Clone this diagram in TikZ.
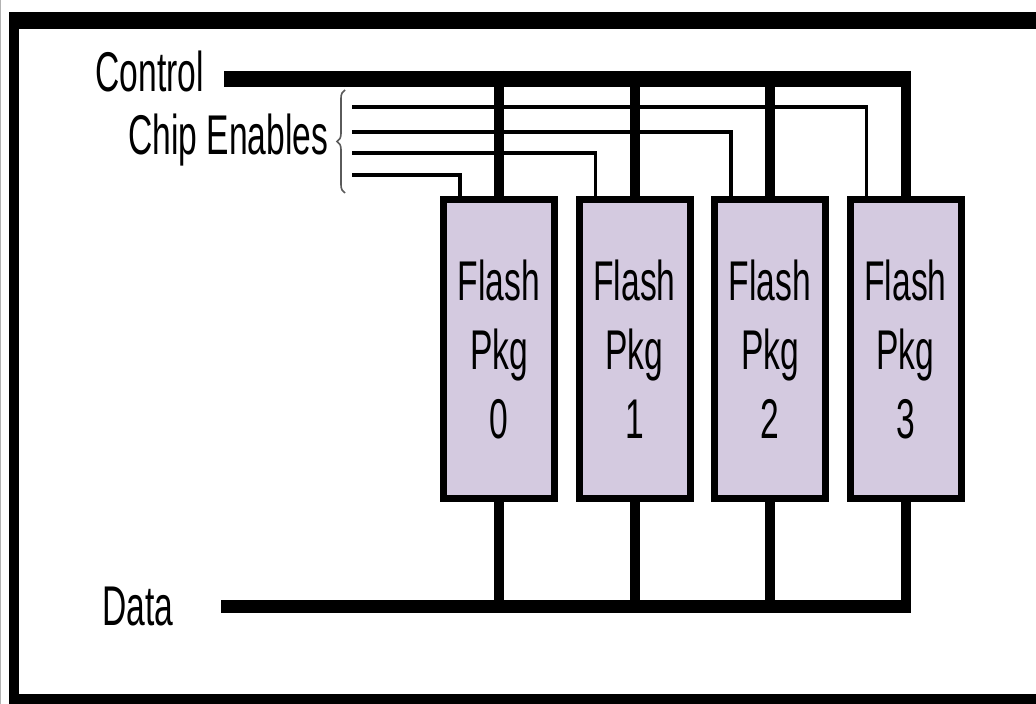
\documentclass[tikz,border=0pt]{standalone}
\usepackage{fontspec}
\setmainfont{Liberation Sans}[FakeStretch=0.6]
\usepackage{xcolor}
\definecolor{flashfill}{RGB}{212,202,224}
\definecolor{bracegray}{RGB}{90,90,90}
\usetikzlibrary{calc, decorations.pathreplacing}

\begin{document}
\begin{tikzpicture}[x=0.5pt, y=-0.5pt,
  flashpkg/.style={draw, line width=3.5pt, fill=flashfill, minimum width=55.5pt,
    minimum height=149.5pt, inner sep=0pt, align=center,
    font=\fontsize{28}{34.5}\selectfont},
  buslabel/.style={anchor=base west, inner sep=0pt, font=\fontsize{28}{34}\selectfont},
  ctrlbus/.style={line width=8pt},
  ctrldrop/.style={line width=5pt},
  databus/.style={line width=6.5pt},
  cesig/.style={line width=1.75pt, line join=miter},
  cebrace/.style={bracegray, line width=0.8pt, decorate, decoration={brace, amplitude=4pt}}]
  \useasboundingbox (0,0) rectangle (1036,704);

  % Outer frame
  \draw[gray!60, line width=0.8pt] (0,0) -- (0,704);
  \fill (9,12) rectangle (1040,29);
  \fill (9,12) rectangle (19,704);
  \fill (9,694) rectangle (1040,704);

  % Flash packages
  \foreach \i in {0,...,3}
    \node[flashpkg] (pkg\i) at (499+135.5*\i,349) {Flash\\Pkg\\\i};

  % Labels
  \node[buslabel] (ctrllbl) at (95,92) {Control};
  \node[buslabel] (celbl) at (128,155) {Chip Enables};
  \node[buslabel] (datalbl) at (102,625) {Data};

  % Control bus
  \coordinate (ctrl) at (224,79);
  \draw[ctrlbus] (ctrl) -- (ctrl -| pkg3.north);
  \foreach \i in {0,...,3}
    \draw[ctrldrop] ($(ctrl -| pkg\i.north)+(0,-8)$) -- (pkg\i.north);

  % Chip enables
  \coordinate (cebot) at (345,193);
  \coordinate (cetop) at (345,90);
  \draw[cebrace] (cebot) -- (cetop);
  \foreach \i/\y in {0/175,1/153,2/132,3/107} {
    \coordinate (ce\i) at (352,\y);
    \draw[cesig] (ce\i) -| ($(pkg\i.north)+(-39,0)$);
  }

  % Data bus
  \coordinate (data) at (221,606);
  \draw[databus] (data) -- (data -| pkg3.south);
  \foreach \i in {0,...,3}
    \draw[ctrldrop] (pkg\i.south) -- ($(data -| pkg\i.south)+(0,6.5)$);
\end{tikzpicture}
\end{document}
